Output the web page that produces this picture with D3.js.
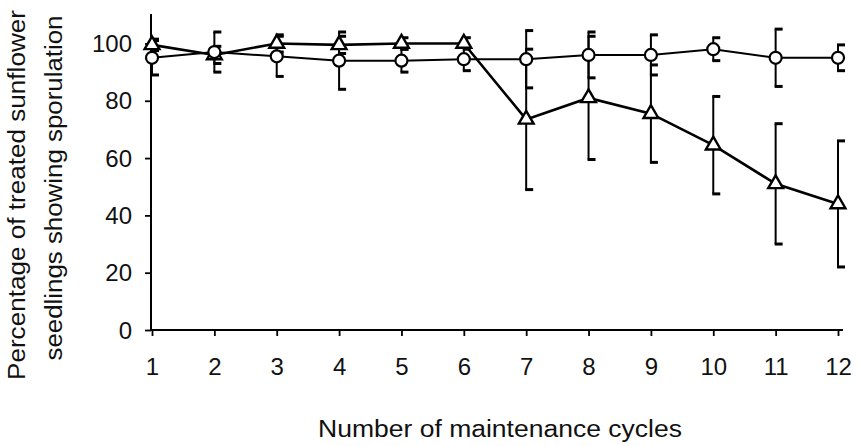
<!DOCTYPE html>
<html><head><meta charset="utf-8">
<script src="https://cdn.jsdelivr.net/npm/d3@7"></script>
<style>body{margin:0;background:#fff}svg{display:block}text{font-family:"Liberation Sans",Arial,sans-serif;fill:#111}</style>
</head><body><svg id="c" width="860" height="446"></svg>
<script>
const cycles = [1,2,3,4,5,6,7,8,9,10,11,12];
const circleVals = [95,97,95.5,94,94,94.5,94.5,96,96,98,95,95];
const circleErr  = [6,7,7,10,4,4,10,8,7,4,10,4.5];
const triVals    = [99.5,96,100,99.5,100,100,73.5,81,75.5,64.5,51,44];
const triErr     = [2,3,3,3,2,2,24.5,21.5,17,17,21,22];
const yTicks = [0,20,40,60,80,100];

const svg = d3.select("#c");
const x = d3.scaleLinear().domain([1,12]).range([152,838]);
const y = d3.scaleLinear().domain([0,110]).range([330,14.8]);

// axes
const gx = svg.append("g").attr("transform","translate(0,330)")
  .call(d3.axisBottom(x).tickValues(cycles).tickFormat(d3.format("d")).tickSize(6).tickSizeOuter(0));
gx.select(".domain").attr("d","M151,0H843").attr("stroke","#000").attr("stroke-width",2);
gx.selectAll(".tick line").attr("stroke","#000").attr("stroke-width",1.8);
gx.selectAll(".tick text").attr("font-size",24).attr("y",28).attr("dy","0.71em");

const gy = svg.append("g").attr("transform","translate(151,0)")
  .call(d3.axisLeft(y).tickValues(yTicks).tickSize(6).tickSizeOuter(0));
gy.select(".domain").attr("d","M0,331V14").attr("stroke","#000").attr("stroke-width",2);
gy.selectAll(".tick line").attr("stroke","#000").attr("stroke-width",1.8);
gy.selectAll(".tick text").attr("font-size",24).attr("x",-19).attr("dy","0.34em");

// axis titles
svg.append("text").attr("x",500).attr("y",437).attr("text-anchor","middle").attr("font-size",23.5)
  .attr("textLength",364).attr("lengthAdjust","spacingAndGlyphs")
  .text("Number of maintenance cycles");
svg.append("text").attr("transform","translate(25,195) rotate(-90)").attr("text-anchor","middle").attr("font-size",23.5)
  .attr("textLength",370).attr("lengthAdjust","spacingAndGlyphs")
  .text("Percentage of treated sunflower");
svg.append("text").attr("transform","translate(62,188) rotate(-90)").attr("text-anchor","middle").attr("font-size",23.5)
  .attr("textLength",345).attr("lengthAdjust","spacingAndGlyphs")
  .text("seedlings showing sporulation");

function errorBars(vals, errs){
  const g = svg.append("g").attr("stroke","#000").attr("fill","none");
  cycles.forEach((c,i)=>{
    const cx = x(c), hi = y(vals[i]+errs[i]), lo = y(vals[i]-errs[i]);
    g.append("line").attr("x1",cx).attr("x2",cx).attr("y1",hi).attr("y2",lo).attr("stroke-width",2);
    g.append("line").attr("x1",cx-1).attr("x2",cx+7).attr("y1",hi).attr("y2",hi).attr("stroke-width",3);
    g.append("line").attr("x1",cx-1).attr("x2",cx+7).attr("y1",lo).attr("y2",lo).attr("stroke-width",3);
  });
}
errorBars(circleVals, circleErr);
errorBars(triVals, triErr);

const line = d3.line().x((d,i)=>x(cycles[i])).y(d=>y(d));
svg.append("path").datum(circleVals).attr("d",line).attr("fill","none").attr("stroke","#000").attr("stroke-width",2);
svg.append("path").datum(triVals).attr("d",line).attr("fill","none").attr("stroke","#000").attr("stroke-width",2.6);

svg.append("g").selectAll("path").data(triVals).join("path")
  .attr("d", d3.symbol(d3.symbolTriangle, 95))
  .attr("transform",(d,i)=>`translate(${x(cycles[i])},${y(d)})`)
  .attr("fill","#fff").attr("stroke","#000").attr("stroke-width",2.4);
svg.append("g").selectAll("circle").data(circleVals).join("circle")
  .attr("cx",(d,i)=>x(cycles[i])).attr("cy",d=>y(d)).attr("r",6)
  .attr("fill","#fff").attr("stroke","#000").attr("stroke-width",2.2);
</script></body></html>
